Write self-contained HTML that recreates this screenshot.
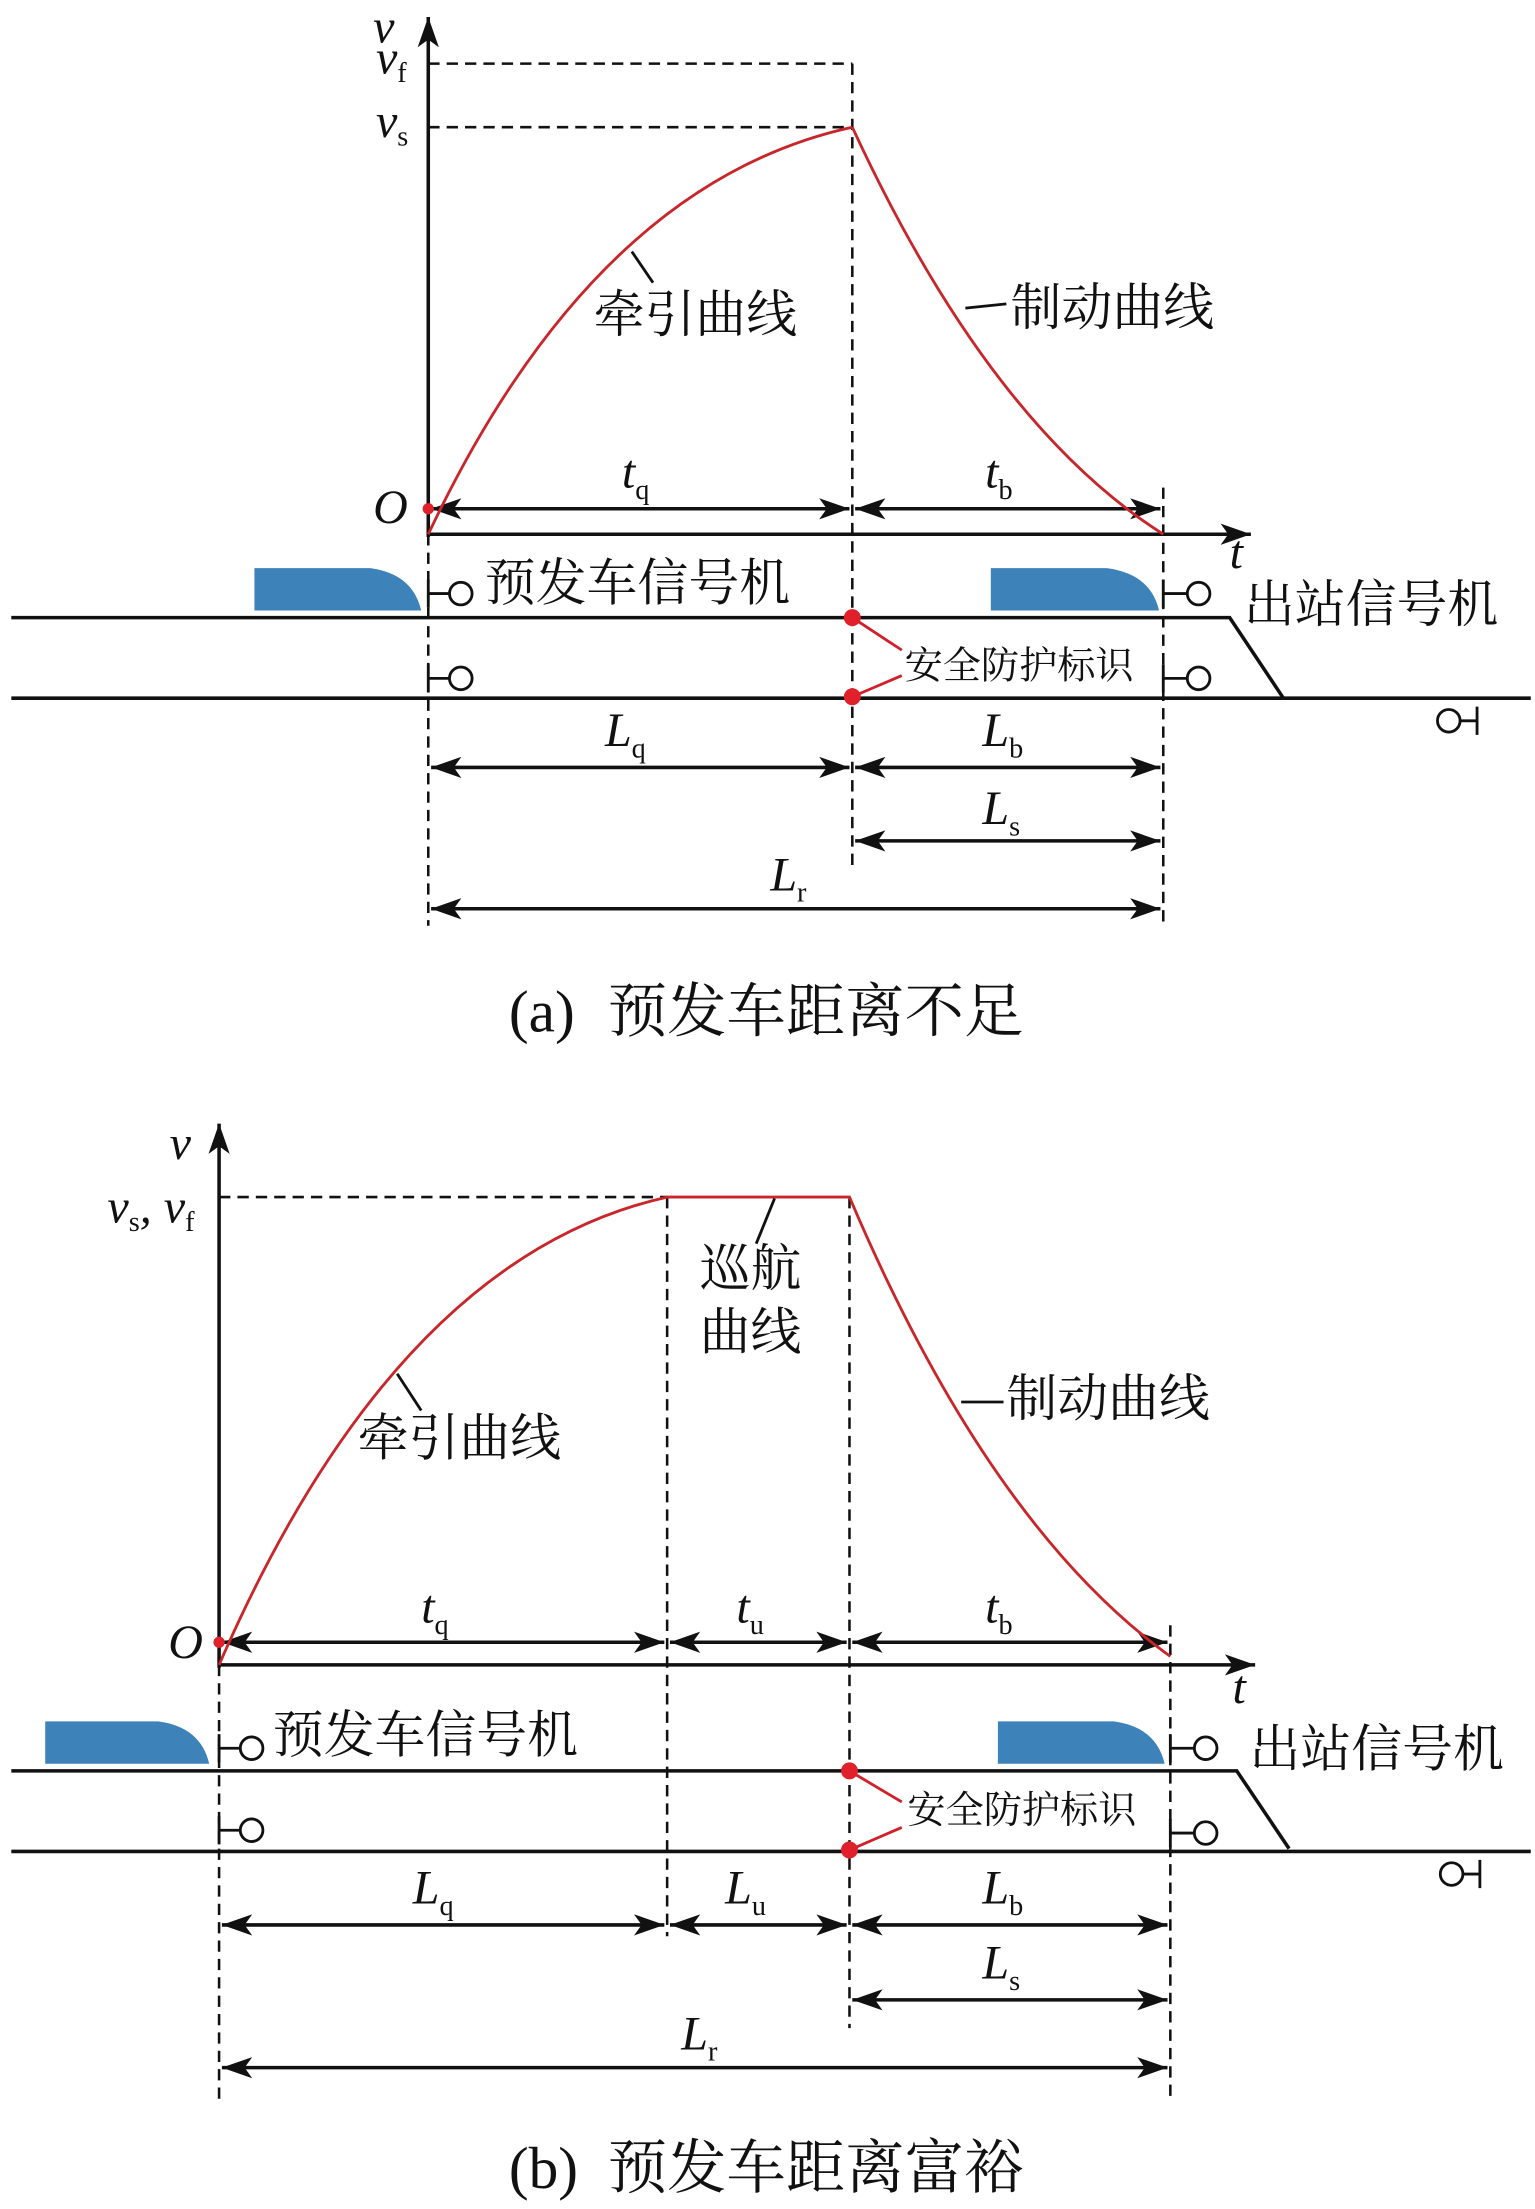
<!DOCTYPE html>
<html><head><meta charset="utf-8"><style>
html,body{margin:0;padding:0;background:#fff}
svg{display:block}
.it{font-family:"Liberation Serif",serif;font-style:italic;font-size:34px;fill:#111}
.sb{font-family:"Liberation Serif",serif;font-style:normal;font-size:20px}
.cn{font-family:"Liberation Serif","Noto Serif CJK SC",serif;font-size:36px;fill:#111}
.cs{font-family:"Liberation Serif","Noto Serif CJK SC",serif;font-size:27px;fill:#111}
.cap{font-family:"Liberation Serif","Noto Serif CJK SC",serif;font-size:42px;fill:#111}
</style></head><body>
<svg width="1535" height="2209" viewBox="0 0 1086 1563" preserveAspectRatio="none" xmlns="http://www.w3.org/2000/svg">
<defs>
<marker id="d" viewBox="0 0 20 14" refX="20" refY="7" markerWidth="22" markerHeight="15" orient="auto-start-reverse" markerUnits="userSpaceOnUse"><path d="M0,0 L20,7 L0,14 L5,7Z" fill="#111"/></marker>
</defs>
<g stroke="#111" fill="none">
<line x1="303" y1="380" x2="303" y2="12" stroke-width="2.5" marker-end="url(#d)"/>
<line x1="303" y1="378" x2="885" y2="378" stroke-width="2.5" marker-end="url(#d)"/>
<g stroke-dasharray="8,5" stroke-width="1.8">
<line x1="303" y1="45" x2="603" y2="45"/><line x1="303" y1="90" x2="603" y2="90"/>
<line x1="603" y1="45" x2="603" y2="615"/><line x1="823" y1="345" x2="823" y2="655"/>
<line x1="303" y1="378" x2="303" y2="655"/>
</g>
<g stroke-width="2.5">
<line x1="305" y1="360" x2="601" y2="360" marker-start="url(#d)" marker-end="url(#d)"/>
<line x1="605" y1="360" x2="821" y2="360" marker-start="url(#d)" marker-end="url(#d)"/>
<line x1="305" y1="543" x2="601" y2="543" marker-start="url(#d)" marker-end="url(#d)"/>
<line x1="605" y1="543" x2="821" y2="543" marker-start="url(#d)" marker-end="url(#d)"/>
<line x1="605" y1="595" x2="821" y2="595" marker-start="url(#d)" marker-end="url(#d)"/>
<line x1="305" y1="643" x2="821" y2="643" marker-start="url(#d)" marker-end="url(#d)"/>
<polyline points="8,437 870,437 908,494"/><line x1="8" y1="494" x2="1083" y2="494"/>
</g>
<path d="M303,378 Q420,130 603,90" stroke="#c8262a" stroke-width="2"/>
<path d="M603,90 Q700,300 823,378" stroke="#c8262a" stroke-width="2"/>
<g stroke-width="2">
<line x1="447" y1="178" x2="462" y2="200"/><line x1="683" y1="218" x2="712" y2="215"/>
<path d="M303,410 V430 M303,420 H318"/><circle cx="326" cy="420" r="8"/>
<path d="M823,410 V430 M823,420 H840"/><circle cx="848" cy="420" r="8"/>
<path d="M303,470 V490 M303,480 H318"/><circle cx="326" cy="480" r="8"/>
<path d="M823,470 V490 M823,480 H840"/><circle cx="848" cy="480" r="8"/>
<circle cx="1025" cy="510" r="8"/><path d="M1033,510 H1045 M1045,500 V520"/>
</g>
<path d="M603,437 L638,460 M603,493 L638,478" stroke="#d0202a" stroke-width="2"/>
<line x1="155" y1="1180" x2="155" y2="795" stroke-width="2.5" marker-end="url(#d)"/>
<line x1="155" y1="1178" x2="888" y2="1178" stroke-width="2.5" marker-end="url(#d)"/>
<g stroke-dasharray="8,5" stroke-width="1.8">
<line x1="155" y1="847" x2="472" y2="847"/>
<line x1="472" y1="847" x2="472" y2="1370"/><line x1="601" y1="847" x2="601" y2="1435"/>
<line x1="155" y1="1178" x2="155" y2="1485"/><line x1="828" y1="1150" x2="828" y2="1485"/>
</g>
<g stroke-width="2.5">
<line x1="157" y1="1162" x2="470" y2="1162" marker-start="url(#d)" marker-end="url(#d)"/>
<line x1="474" y1="1162" x2="599" y2="1162" marker-start="url(#d)" marker-end="url(#d)"/>
<line x1="603" y1="1162" x2="826" y2="1162" marker-start="url(#d)" marker-end="url(#d)"/>
<line x1="157" y1="1362" x2="470" y2="1362" marker-start="url(#d)" marker-end="url(#d)"/>
<line x1="474" y1="1362" x2="599" y2="1362" marker-start="url(#d)" marker-end="url(#d)"/>
<line x1="603" y1="1362" x2="826" y2="1362" marker-start="url(#d)" marker-end="url(#d)"/>
<line x1="603" y1="1415" x2="826" y2="1415" marker-start="url(#d)" marker-end="url(#d)"/>
<line x1="157" y1="1463" x2="826" y2="1463" marker-start="url(#d)" marker-end="url(#d)"/>
<polyline points="8,1253 875,1253 912,1308"/><line x1="8" y1="1310" x2="1083" y2="1310"/>
</g>
<path d="M155,1178 Q280,890 472,847 L601,847 Q700,1080 828,1172" stroke="#c8262a" stroke-width="2"/>
<g stroke-width="2">
<line x1="281" y1="972" x2="298" y2="998"/><line x1="680" y1="992" x2="710" y2="992"/>
<line x1="548" y1="848" x2="535" y2="880"/>
<path d="M155,1227 V1247 M155,1237 H170"/><circle cx="178" cy="1237" r="8"/>
<path d="M828,1227 V1247 M828,1237 H845"/><circle cx="853" cy="1237" r="8"/>
<path d="M155,1285 V1305 M155,1295 H170"/><circle cx="178" cy="1295" r="8"/>
<path d="M828,1287 V1307 M828,1297 H845"/><circle cx="853" cy="1297" r="8"/>
<circle cx="1027" cy="1326" r="8"/><path d="M1035,1326 H1047 M1047,1316 V1336"/>
</g>
<path d="M601,1253 L638,1275 M601,1309 L638,1293" stroke="#d0202a" stroke-width="2"/>
</g>
<path d="M180,402 H262 Q292,406 298,432 H180Z" fill="#3d82b8"/>
<path d="M701,402 H783 Q814,406 820,432 H701Z" fill="#3d82b8"/>
<path d="M32,1218 H112 Q142,1222 148,1248 H32Z" fill="#3d82b8"/>
<path d="M706,1218 H788 Q818,1222 824,1248 H706Z" fill="#3d82b8"/>
<g fill="#e0202a">
<circle cx="303" cy="360" r="4"/><circle cx="603" cy="437" r="6"/><circle cx="603" cy="493" r="6"/>
<circle cx="155" cy="1162" r="4"/><circle cx="601" cy="1253" r="6"/><circle cx="601" cy="1309" r="6"/>
</g>
<text class="it" x="264" y="30">v</text>
<text class="it" x="266" y="52">v<tspan class="sb" dy="6">f</tspan></text>
<text class="it" x="266" y="97">v<tspan class="sb" dy="6">s</tspan></text>
<text class="it" x="264" y="370">O</text>
<text class="it" x="870" y="402">t</text>
<text class="it" x="440" y="345">t<tspan class="sb" dy="8">q</tspan></text>
<text class="it" x="697" y="345">t<tspan class="sb" dy="8">b</tspan></text>
<text class="it" x="428" y="528">L<tspan class="sb" dy="8">q</tspan></text>
<text class="it" x="695" y="528">L<tspan class="sb" dy="8">b</tspan></text>
<text class="it" x="695" y="583">L<tspan class="sb" dy="8">s</tspan></text>
<text class="it" x="545" y="630">L<tspan class="sb" dy="8">r</tspan></text>
<text class="cn" x="420" y="235">牵引曲线</text>
<text class="cn" x="715" y="230">制动曲线</text>
<text class="cn" x="343" y="425">预发车信号机</text>
<text class="cn" x="880" y="440">出站信号机</text>
<text class="cs" x="640" y="480">安全防护标识</text>
<text class="cap" x="360" y="730">(a)<tspan x="430">预发车距离不足</tspan></text>
<text class="it" x="120" y="820">v</text>
<text class="it" x="76" y="865">v<tspan class="sb" dy="6">s</tspan><tspan dy="-6">, v</tspan><tspan class="sb" dy="6">f</tspan></text>
<text class="it" x="119" y="1173">O</text>
<text class="it" x="872" y="1205">t</text>
<text class="it" x="298" y="1148">t<tspan class="sb" dy="8">q</tspan></text>
<text class="it" x="521" y="1148">t<tspan class="sb" dy="8">u</tspan></text>
<text class="it" x="697" y="1148">t<tspan class="sb" dy="8">b</tspan></text>
<text class="it" x="292" y="1347">L<tspan class="sb" dy="8">q</tspan></text>
<text class="it" x="513" y="1347">L<tspan class="sb" dy="8">u</tspan></text>
<text class="it" x="695" y="1347">L<tspan class="sb" dy="8">b</tspan></text>
<text class="it" x="695" y="1400">L<tspan class="sb" dy="8">s</tspan></text>
<text class="it" x="482" y="1450">L<tspan class="sb" dy="8">r</tspan></text>
<text class="cn" x="495" y="910">巡航</text>
<text class="cn" x="495" y="955">曲线</text>
<text class="cn" x="253" y="1030">牵引曲线</text>
<text class="cn" x="712" y="1002">制动曲线</text>
<text class="cn" x="193" y="1240">预发车信号机</text>
<text class="cn" x="884" y="1250">出站信号机</text>
<text class="cs" x="642" y="1290">安全防护标识</text>
<text class="cap" x="360" y="1548">(b)<tspan x="430">预发车距离富裕</tspan></text>
</svg>
</body></html>
